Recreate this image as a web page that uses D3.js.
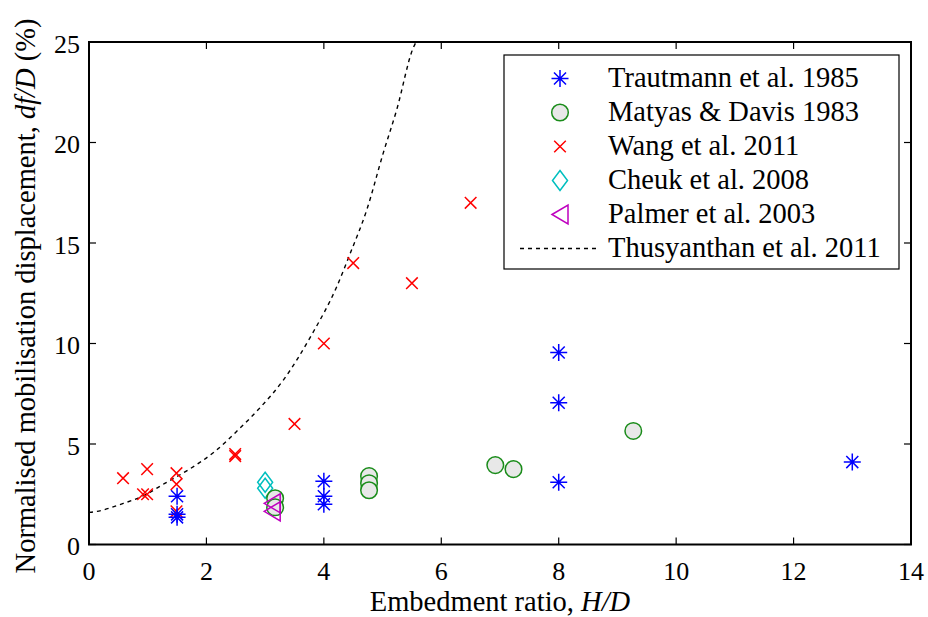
<!DOCTYPE html>
<html>
<head>
<meta charset="utf-8">
<script src="https://cdn.jsdelivr.net/npm/d3@7"></script>
<style>
body{margin:0;background:#fff;}
svg{display:block;}
text{font-family:"Liberation Serif","Times New Roman",serif;}
</style>
</head>
<body>
<svg id="chart" width="928" height="617"></svg>
<script>
// ---------- data ----------
const trautmannX = [1.5, 1.5, 1.5, 4, 4, 4, 8, 8, 8, 13];
const trautmannY = [2.4, 1.5, 1.35, 3.15, 2.4, 2.0, 9.55, 7.05, 3.1, 4.1];

const matyasX = [3.17, 3.17, 4.77, 4.77, 4.77, 6.92, 7.23, 9.27];
const matyasY = [2.3, 1.85, 3.4, 3.05, 2.7, 3.95, 3.75, 5.65];

const wangX = [0.58, 0.99, 1.49, 1.49, 0.92, 0.99, 1.49, 2.49, 2.49, 3.5, 4, 4.5, 5.5, 6.5];
const wangY = [3.3, 3.75, 3.55, 3.0, 2.5, 2.5, 1.65, 4.4, 4.5, 6.0, 10, 14, 13, 17];

const cheukX = [3.0, 3.0];
const cheukY = [3.1, 2.8];

const palmerX = [3.12, 3.12];
const palmerY = [2.05, 1.65];

const thusyanthanX = [0, 0.1, 0.55, 0.95, 1.29, 1.69, 2.14, 2.54, 2.93, 3.31, 3.79, 4.22, 4.45, 4.73, 5.01, 5.24, 5.52, 5.57];
const thusyanthanY = [1.6, 1.63, 2.01, 2.46, 3.04, 3.71, 4.62, 5.70, 6.86, 8.18, 10.42, 12.83, 14.49, 16.64, 19.46, 21.62, 24.69, 25];

const xTicks = [0, 2, 4, 6, 8, 10, 12, 14];
const yTicks = [0, 5, 10, 15, 20, 25];

const legendLabels = ["Trautmann et al. 1985", "Matyas & Davis 1983", "Wang et al. 2011",
  "Cheuk et al. 2008", "Palmer et al. 2003", "Thusyanthan et al. 2011"];

// ---------- layout ----------
const svg = d3.select("#chart");
const L = 89, R = 911, T = 42, B = 544.5;
const x = d3.scaleLinear().domain([0, 14]).range([L, R]);
const y = d3.scaleLinear().domain([0, 25]).range([B, T]);
const fs = 28.5, tfs = 26;

svg.append("rect").attr("width", 928).attr("height", 617).attr("fill", "#fff");

svg.append("clipPath").attr("id", "clip").append("rect")
  .attr("x", L).attr("y", T).attr("width", R - L).attr("height", B - T);

// ---------- marker shapes ----------
function asteriskPath(s) {
  const d = s * 0.707;
  return `M${-s},0L${s},0M0,${-s}L0,${s}M${-d},${-d}L${d},${d}M${-d},${d}L${d},${-d}`;
}
function crossPath(s) {
  return `M${-s},${-s}L${s},${s}M${-s},${s}L${s},${-s}`;
}
function diamondPath(w, h) {
  return `M0,${-h}L${w},0L0,${h}L${-w},0Z`;
}
function triLeftPath(w, h) {
  return `M${-w},0L${w},${-h}L${w},${h}Z`;
}
const AST = asteriskPath(8.5), CRS = crossPath(5.8), DIA = diamondPath(7.5, 10), TRI = triLeftPath(8, 9.5);
const RAD = 8.3, SW = 1.5;

const g = svg.append("g").attr("clip-path", "url(#clip)");

const line = d3.line().x(d => x(d[0])).y(d => y(d[1])).curve(d3.curveMonotoneX);
g.append("path")
  .datum(thusyanthanX.map((v, i) => [v, thusyanthanY[i]]))
  .attr("d", line).attr("fill", "none").attr("stroke", "#000")
  .attr("stroke-width", 1.4).attr("stroke-dasharray", "4,4");

g.selectAll(".wang").data(wangX.map((v, i) => [v, wangY[i]])).enter().append("path")
  .attr("transform", d => `translate(${x(d[0])},${y(d[1])})`)
  .attr("d", CRS).attr("stroke", "#ff0000").attr("stroke-width", SW).attr("fill", "none");

g.selectAll(".cheuk").data(cheukX.map((v, i) => [v, cheukY[i]])).enter().append("path")
  .attr("transform", d => `translate(${x(d[0])},${y(d[1])})`)
  .attr("d", DIA).attr("stroke", "#00bfbf").attr("stroke-width", SW).attr("fill", "none");

g.selectAll(".matyas").data(matyasX.map((v, i) => [v, matyasY[i]])).enter().append("circle")
  .attr("cx", d => x(d[0])).attr("cy", d => y(d[1])).attr("r", RAD)
  .attr("fill", "#e8e8e8").attr("stroke", "#1a8c1a").attr("stroke-width", SW);

g.selectAll(".palmer").data(palmerX.map((v, i) => [v, palmerY[i]])).enter().append("path")
  .attr("transform", d => `translate(${x(d[0])},${y(d[1])})`)
  .attr("d", TRI).attr("stroke", "#bf00bf").attr("stroke-width", SW).attr("fill", "none");

g.selectAll(".traut").data(trautmannX.map((v, i) => [v, trautmannY[i]])).enter().append("path")
  .attr("transform", d => `translate(${x(d[0])},${y(d[1])})`)
  .attr("d", AST).attr("stroke", "#0000ff").attr("stroke-width", SW).attr("fill", "none");

// ---------- axes ----------
const tickLen = 7;
const ax = svg.append("g").attr("stroke", "#000").attr("stroke-width", 1.2);
xTicks.forEach(t => {
  ax.append("line").attr("x1", x(t)).attr("x2", x(t)).attr("y1", B).attr("y2", B - tickLen);
  ax.append("line").attr("x1", x(t)).attr("x2", x(t)).attr("y1", T).attr("y2", T + tickLen);
});
yTicks.forEach(t => {
  ax.append("line").attr("y1", y(t)).attr("y2", y(t)).attr("x1", L).attr("x2", L + tickLen);
  ax.append("line").attr("y1", y(t)).attr("y2", y(t)).attr("x1", R).attr("x2", R - tickLen);
});
svg.append("rect").attr("x", L).attr("y", T).attr("width", R - L).attr("height", B - T)
  .attr("fill", "none").attr("stroke", "#000").attr("stroke-width", 2);

svg.selectAll(".xt").data(xTicks).enter().append("text")
  .attr("x", d => x(d)).attr("y", 579.5).attr("text-anchor", "middle")
  .attr("font-size", tfs).text(d => d);
svg.selectAll(".yt").data(yTicks).enter().append("text")
  .attr("x", 80).attr("y", d => y(d) + 10.5).attr("text-anchor", "end")
  .attr("font-size", tfs).text(d => d);

const xl = svg.append("text").attr("x", 500).attr("y", 611).attr("text-anchor", "middle").attr("font-size", fs);
xl.append("tspan").text("Embedment ratio, ");
xl.append("tspan").attr("font-style", "italic").text("H/D");

const yl = svg.append("text").attr("transform", `translate(35,296) rotate(-90)`)
  .attr("text-anchor", "middle").attr("font-size", fs);
yl.append("tspan").text("Normalised mobilisation displacement, ");
yl.append("tspan").attr("font-style", "italic").text("df/D");
yl.append("tspan").text(" (%)");

// ---------- legend ----------
const lg = svg.append("g");
lg.append("rect").attr("x", 504).attr("y", 55).attr("width", 395).attr("height", 214)
  .attr("fill", "#fff").attr("stroke", "#000").attr("stroke-width", 1.2);
const rowY = d3.range(6).map(i => 78.5 + i * 34);
const mx = 560;
lg.append("path").attr("transform", `translate(${mx},${rowY[0]})`).attr("d", AST)
  .attr("stroke", "#0000ff").attr("stroke-width", SW).attr("fill", "none");
lg.append("circle").attr("cx", mx).attr("cy", rowY[1]).attr("r", RAD)
  .attr("fill", "#e8e8e8").attr("stroke", "#1a8c1a").attr("stroke-width", SW);
lg.append("path").attr("transform", `translate(${mx},${rowY[2]})`).attr("d", CRS)
  .attr("stroke", "#ff0000").attr("stroke-width", SW).attr("fill", "none");
lg.append("path").attr("transform", `translate(${mx},${rowY[3]})`).attr("d", DIA)
  .attr("stroke", "#00bfbf").attr("stroke-width", SW).attr("fill", "none");
lg.append("path").attr("transform", `translate(${mx},${rowY[4]})`).attr("d", TRI)
  .attr("stroke", "#bf00bf").attr("stroke-width", SW).attr("fill", "none");
lg.append("line").attr("x1", 520).attr("x2", 597).attr("y1", rowY[5]).attr("y2", rowY[5])
  .attr("stroke", "#000").attr("stroke-width", 1.4).attr("stroke-dasharray", "4,4");
lg.selectAll(".lt").data(legendLabels).enter().append("text")
  .attr("x", 608).attr("y", (d, i) => rowY[i] + 8.5).attr("font-size", fs).text(d => d);
</script>
</body>
</html>
